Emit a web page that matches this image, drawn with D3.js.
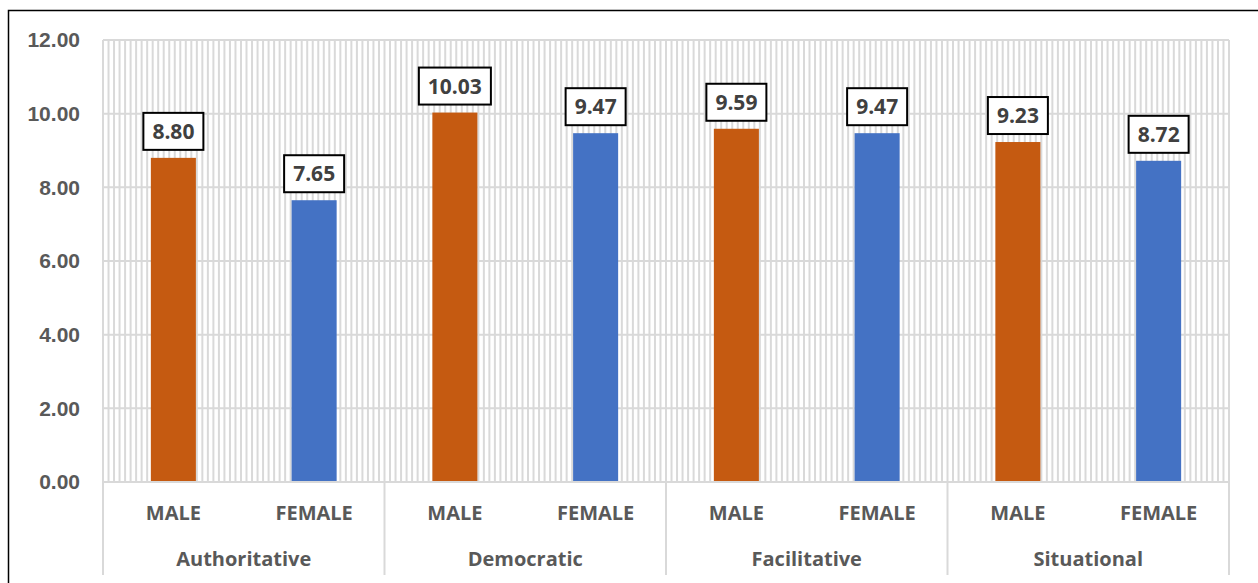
<!DOCTYPE html>
<html>
<head>
<meta charset="utf-8">
<script src="https://cdn.jsdelivr.net/npm/d3@7"></script>
<style>
  html, body { margin: 0; padding: 0; background: #fff; overflow: hidden; }
  svg { display: block; font-family: 'Open Sans', sans-serif; }
</style>
</head>
<body>
<div id="chart"></div>
<script>
const categories = ['Authoritative', 'Democratic', 'Facilitative', 'Situational']
const genders = ['MALE', 'FEMALE']
const maleValues = [8.80, 10.03, 9.59, 9.23]
const femaleValues = [7.65, 9.47, 9.47, 8.72]
const yTicks = [0, 2, 4, 6, 8, 10, 12]

const width = 1258
const height = 583
const plot = { left: 103, right: 1229, top: 40, bottom: 482 }
const colors = { MALE: '#C55A11', FEMALE: '#4472C4' }

const rows = categories.flatMap((c, i) => [
  { category: c, gender: 'MALE', value: maleValues[i] },
  { category: c, gender: 'FEMALE', value: femaleValues[i] }
])

const svg = d3.select('#chart').append('svg')
  .attr('width', width)
  .attr('height', height)

// outer chart border (cut off on the right and bottom in the original)
svg.append('rect')
  .attr('x', 8.5).attr('y', 10.5)
  .attr('width', 1300).attr('height', 600)
  .attr('fill', 'none').attr('stroke', '#000').attr('stroke-width', 1.5)

const x0 = d3.scaleBand().domain(categories).range([plot.left, plot.right])
const x1 = d3.scaleBand().domain(genders).range([0, x0.bandwidth()]).paddingInner(0.68).paddingOuter(0.34)
const y = d3.scaleLinear().domain([0, 12]).range([plot.bottom, plot.top])

// dense vertical gridlines
const gridX = d3.scaleLinear().domain([0, 204]).range([plot.left, plot.right])
svg.append('g')
  .selectAll('line')
  .data(d3.range(0, 205))
  .join('line')
  .attr('x1', d => gridX(d)).attr('x2', d => gridX(d))
  .attr('y1', plot.top).attr('y2', plot.bottom)
  .attr('stroke', '#D9D9D9').attr('stroke-width', 2)

// horizontal gridlines
svg.append('g')
  .selectAll('line')
  .data(yTicks)
  .join('line')
  .attr('x1', plot.left).attr('x2', plot.right)
  .attr('y1', d => y(d)).attr('y2', d => y(d))
  .attr('stroke', '#D9D9D9').attr('stroke-width', 2)

// y axis labels
const yAxis = svg.append('g')
  .attr('transform', `translate(${plot.left},0)`)
  .call(d3.axisLeft(y).tickValues(yTicks).tickFormat(d3.format('.2f')).tickSize(0).tickPadding(23))
yAxis.select('.domain').remove()
yAxis.selectAll('text')
  .attr('fill', '#595959')
  .style('font-size', '21px')
  .style('font-weight', 700)

// bars
svg.append('g')
  .selectAll('rect')
  .data(rows)
  .join('rect')
  .attr('x', d => x0(d.category) + x1(d.gender))
  .attr('y', d => y(d.value))
  .attr('width', x1.bandwidth())
  .attr('height', d => y(0) - y(d.value))
  .attr('fill', d => colors[d.gender])

// data labels in boxes
const labels = svg.append('g')
  .selectAll('g')
  .data(rows)
  .join('g')
  .attr('transform', d => `translate(${x0(d.category) + x1(d.gender) + x1.bandwidth() / 2},${y(d.value) - 8})`)

labels.append('text')
  .attr('text-anchor', 'middle')
  .attr('y', -11)
  .attr('fill', '#404040')
  .style('font-size', '21px')
  .style('font-weight', 700)
  .text(d => d.value.toFixed(2))

labels.each(function () {
  const g = d3.select(this)
  const bb = g.select('text').node().getBBox()
  g.insert('rect', 'text')
    .attr('x', bb.x - 9)
    .attr('y', -37)
    .attr('width', bb.width + 18)
    .attr('height', 37)
    .attr('fill', '#fff')
    .attr('stroke', '#000')
    .attr('stroke-width', 2)
})

// x axis baseline and category separators
svg.append('line')
  .attr('x1', plot.left).attr('x2', plot.right)
  .attr('y1', plot.bottom).attr('y2', plot.bottom)
  .attr('stroke', '#D9D9D9').attr('stroke-width', 2)

const sepX = categories.map(c => x0(c)).concat([plot.right])
svg.append('g')
  .selectAll('line')
  .data(sepX)
  .join('line')
  .attr('x1', d => d).attr('x2', d => d)
  .attr('y1', plot.bottom).attr('y2', 575)
  .attr('stroke', '#D9D9D9').attr('stroke-width', 2)

// sub-category labels
svg.append('g')
  .selectAll('text')
  .data(rows)
  .join('text')
  .attr('x', d => x0(d.category) + x1(d.gender) + x1.bandwidth() / 2)
  .attr('y', 520)
  .attr('text-anchor', 'middle')
  .attr('fill', '#595959')
  .style('font-size', '20px')
  .style('font-weight', 700)
  .text(d => d.gender)

// category labels
svg.append('g')
  .selectAll('text')
  .data(categories)
  .join('text')
  .attr('x', d => x0(d) + x0.bandwidth() / 2)
  .attr('y', 566)
  .attr('text-anchor', 'middle')
  .attr('fill', '#595959')
  .style('font-size', '20px')
  .style('font-weight', 700)
  .text(d => d)
</script>
</body>
</html>
